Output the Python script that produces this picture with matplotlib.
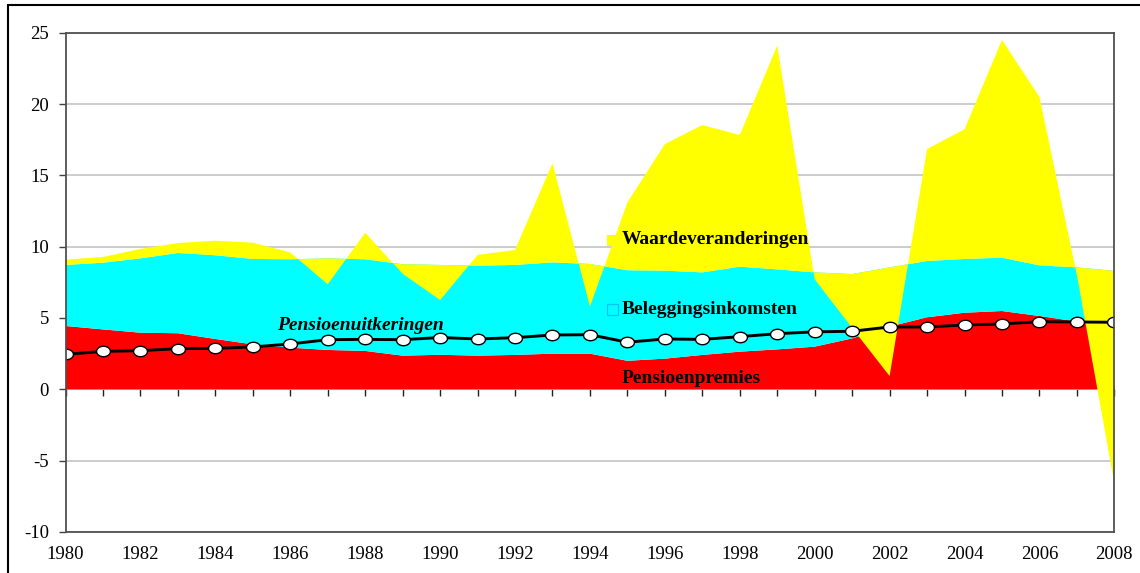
import matplotlib
matplotlib.use("Agg")
import matplotlib.pyplot as plt
import numpy as np
from matplotlib.patches import Rectangle

plt.rcParams["axes.unicode_minus"] = False

years = list(range(1980, 2009))
# Pensioenpremies (red)
premies = [4.44, 4.20, 3.97, 3.93, 3.53, 3.15, 2.92, 2.76, 2.69, 2.36, 2.42, 2.36, 2.41, 2.50, 2.50,
           2.00, 2.15, 2.41, 2.64, 2.80, 2.99, 3.57, 4.40, 5.05, 5.37, 5.49, 5.14, 4.75, 4.60]
# Beleggingsinkomsten (cyan)
beleggingen = [4.28, 4.68, 5.21, 5.63, 5.87, 5.99, 6.20, 6.42, 6.43, 6.41, 6.30, 6.31, 6.31, 6.40, 6.29,
               6.35, 6.17, 5.79, 5.96, 5.61, 5.21, 4.51, 4.15, 3.95, 3.77, 3.74, 3.55, 3.80, 3.70]
# Waardeveranderingen (yellow)
waarde = [0.37, 0.40, 0.66, 0.70, 1.02, 1.14, 0.48, -1.82, 1.86, -0.67, -2.46, 0.75, 1.05, 6.95, -2.99,
          4.75, 8.88, 10.33, 9.23, 15.69, -0.49, -3.78, -7.62, 7.85, 9.09, 15.27, 11.81, -0.55, -14.90]
# Pensioenuitkeringen (line)
uitkeringen = [2.45, 2.66, 2.71, 2.85, 2.87, 2.97, 3.18, 3.48, 3.50, 3.48, 3.63, 3.53, 3.62, 3.81, 3.83,
               3.30, 3.53, 3.50, 3.69, 3.90, 4.03, 4.07, 4.37, 4.37, 4.51, 4.58, 4.74, 4.72, 4.70]

labels = ["Pensioenpremies", "Beleggingsinkomsten", "Waardeveranderingen", "Pensioenuitkeringen"]
colors = ["#ff0000", "#00ffff", "#ffff00"]

x = np.array(years)
p = np.array(premies)
b = np.array(beleggingen)
w = np.array(waarde)
c1 = p
c2 = p + b
c3 = p + b + w

serif = ["Liberation Serif", "DejaVu Serif"]

fig = plt.figure(figsize=(11.4, 5.73), dpi=100)
ax = fig.add_axes([0.0575, 0.0717, 0.9200, 0.8711])

ymin, ymax = -10, 25
ax.set_xlim(years[0], years[-1])
ax.set_ylim(ymin, ymax)

# Excel-style stacked areas (later series painted on top)
ax.fill_between(x, 0, c1, facecolor=colors[0], edgecolor="none", zorder=2)
ax.fill_between(x, c1, c2, facecolor=colors[1], edgecolor="none", zorder=3)
ax.fill_between(x, c2, c3, facecolor=colors[2], edgecolor="none", zorder=4)

# slightly wide elliptical marker, like the stretched Excel original
t = np.linspace(0, 2 * np.pi, 40)
ellipse = np.column_stack([1.33 * np.cos(t), np.sin(t)])
ax.plot(x, uitkeringen, color="black", lw=2.1, marker=ellipse, markersize=10,
        markerfacecolor="white", markeredgecolor="black", markeredgewidth=1.0, zorder=6)

# grid
ax.set_yticks(np.arange(ymin, ymax + 1, 5))
ax.yaxis.grid(True, color="#c8c8c8", lw=1.3, zorder=0)
ax.set_axisbelow(True)

ax.set_xticks(np.arange(years[0], years[-1] + 1, 2))
ax.tick_params(axis="x", length=0, pad=10, labelsize=13.5)
ax.tick_params(axis="y", length=5, width=1, color="#404040", labelsize=13.5, pad=7)
for lab in ax.get_xticklabels() + ax.get_yticklabels():
    lab.set_family(serif)

for s in ax.spines.values():
    s.set_color("#505050")
    s.set_linewidth(1.3)
    s.set_zorder(7)

# horizontal category axis crossing at 0
zero_frac = (0 - ymin) / (ymax - ymin)
sec = ax.secondary_xaxis(zero_frac)
sec.set_xticks(years)
sec.set_xticklabels([])
sec.tick_params(axis="x", direction="out", length=5, width=1, color="#202020")
sec.spines["bottom"].set_color("#202020")
sec.spines["bottom"].set_linewidth(1.3)
sec.spines["bottom"].set_zorder(7)

# series labels
tf = dict(family=serif, fontsize=14, fontweight="bold", va="center", ha="left", zorder=8)
ax.text(1994.85, 10.47, labels[2], **tf)
ax.text(1994.85, 5.63, labels[1], **tf)
ax.text(1994.85, 0.79, labels[0], **tf)
ax.text(1985.65, 4.44, labels[3], family=serif, fontsize=14, fontweight="bold",
        fontstyle="italic", va="center", ha="left", zorder=8)

# legend keys next to labels
ax.add_patch(Rectangle((1994.45, 10.05), 0.29, 0.78, facecolor=colors[2], edgecolor="none", zorder=8))
ax.add_patch(Rectangle((1994.45, 5.22), 0.29, 0.78, facecolor=colors[1], edgecolor="#00c0ff",
                       lw=0.9, zorder=8))

# outer frame
fig.patches.append(Rectangle((8 / 1140, -0.01), 1.2, 1 - 5 / 573 + 0.01, transform=fig.transFigure,
                             fill=False, edgecolor="black", lw=1.5))

fig.savefig("out.png", dpi=100)
